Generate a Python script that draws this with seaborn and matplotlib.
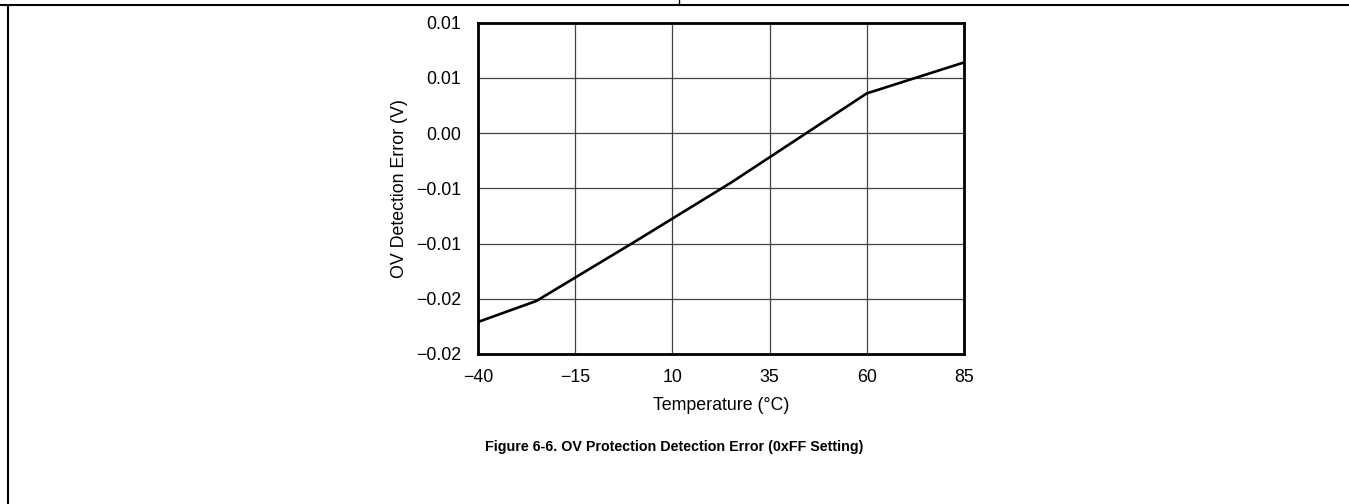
import matplotlib
matplotlib.use("Agg")
import matplotlib.pyplot as plt
import seaborn as sns
import pandas as pd
from matplotlib.lines import Line2D

# Data
temperature = [-40, -25, 0, 25, 60, 85]
ov_error = [-0.0171, -0.0152, -0.0099, -0.0045, 0.0036, 0.0064]
x_ticks = [-40, -15, 10, 35, 60, 85]
x_tick_labels = ["\u221240", "\u221215", "10", "35", "60", "85"]
y_ticks = [-0.02, -0.015, -0.01, -0.005, 0.0, 0.005, 0.01]
y_tick_labels = ["\u22120.02", "\u22120.02", "\u22120.01", "\u22120.01", "0.00", "0.01", "0.01"]
x_label = "Temperature (\u00b0C)"
y_label = "OV Detection Error (V)"
caption = "Figure 6-6. OV Protection Detection Error (0xFF Setting)"

sns.set_theme(style="white")
plt.rcParams['font.family'] = ['Liberation Sans', 'DejaVu Sans']
plt.rcParams['text.color'] = 'black'

fig = plt.figure(figsize=(13.49, 5.04), dpi=100)
ax = fig.add_axes([478/1349, 1-354/504, (964-478)/1349, (354-22.7)/504])

df = pd.DataFrame({"T": temperature, "E": ov_error})
sns.lineplot(data=df, x="T", y="E", ax=ax, color="black", linewidth=1.9)

ax.set_xlim(-40, 85)
ax.set_ylim(-0.02, 0.01)
ax.set_xticks(x_ticks)
ax.set_xticklabels(x_tick_labels, fontsize=12.8)
ax.set_yticks(y_ticks)
ax.set_yticklabels(y_tick_labels, fontsize=12.8)
ax.tick_params(axis='y', length=0, pad=12, colors='black')
ax.tick_params(axis='x', length=0, pad=11, colors='black')
ax.grid(True, color='#444444', linewidth=0.9)
for s in ax.spines.values():
    s.set_visible(True)
    s.set_color('black')
    s.set_linewidth(2.0)
ax.set_xlabel(x_label, fontsize=12.8, labelpad=8, color='black')
ax.set_ylabel(y_label, fontsize=12.8, labelpad=6, color='black')

fig.text(0.5, 1-447/504, caption, ha='center', va='center', fontsize=10.3,
         fontweight='bold', color='black')

# page frame lines
fig.add_artist(Line2D([0, 1], [1-5/504, 1-5/504], transform=fig.transFigure, color='black', linewidth=1.5))
fig.add_artist(Line2D([679/1349, 679/1349], [1-5/504, 1], transform=fig.transFigure, color='black', linewidth=1.0))
fig.add_artist(Line2D([8/1349, 8/1349], [0, 1-5/504], transform=fig.transFigure, color='black', linewidth=1.5))

fig.savefig("out.png", dpi=100)
